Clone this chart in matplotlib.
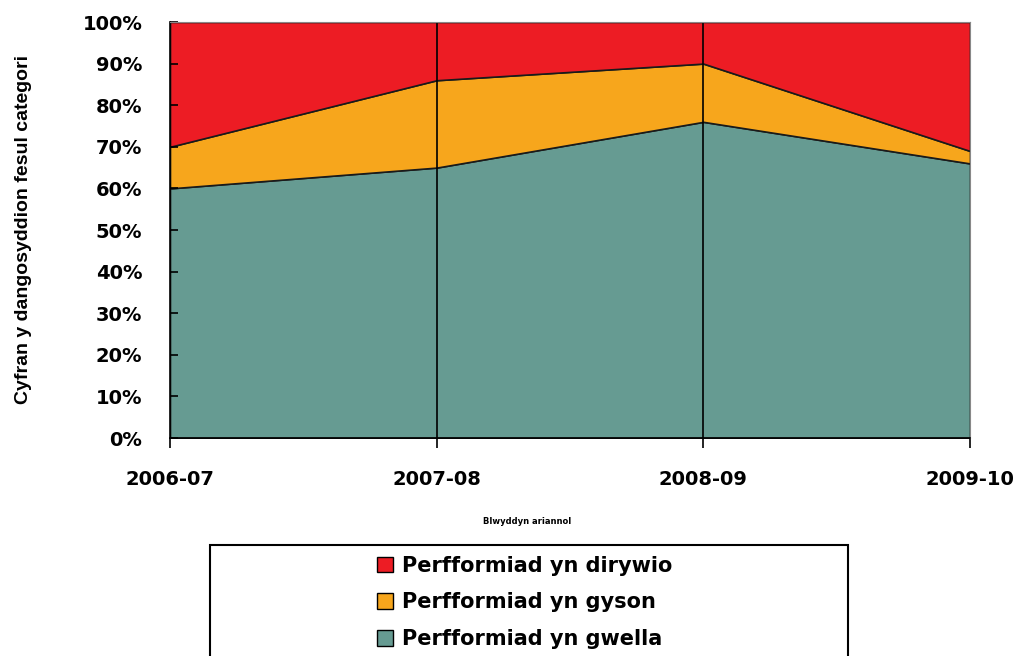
import matplotlib.pyplot as plt
from matplotlib.patches import Rectangle

# Financial years and share of indicators per category (percent)
years = ['2006-07', '2007-08', '2008-09', '2009-10']
gwella = [60, 65, 76, 66]      # improving
gyson = [10, 21, 14, 3]        # stable
dirywio = [30, 14, 10, 31]     # declining

labels = ['Perfformiad yn gwella', 'Perfformiad yn gyson', 'Perfformiad yn dirywio']
colours = ['#669B92', '#F7A61C', '#ED1C24']

fig = plt.figure(figsize=(10.19, 6.56), dpi=100)
ax = fig.add_axes([170/1019, 1 - 438/656, 800/1019, 416/656])

x = list(range(len(years)))
polys = ax.stackplot(x, gwella, gyson, dirywio, colors=colours, labels=labels,
                     edgecolor='#1a1a1a', linewidth=1.2)

# vertical lines at the middle categories
for xi in x[1:-1]:
    ax.axvline(xi, color='black', linewidth=1.2)

ax.set_xlim(0, 3)
ax.set_ylim(0, 100)
ax.set_xticks(x)
ax.set_xticklabels(years, fontsize=14, fontweight='bold')
ax.set_yticks(range(0, 101, 10))
ax.set_yticklabels([f'{v}%' for v in range(0, 101, 10)], fontsize=14, fontweight='bold')
ax.tick_params(axis='x', direction='out', length=7, width=1.2, pad=16)
ax.tick_params(axis='y', direction='in', length=6, width=1.2, pad=20)
for s in ['left', 'bottom']:
    ax.spines[s].set_linewidth(1.2)
for s in ['top', 'right']:
    ax.spines[s].set_color('#888888')

ax.set_ylabel('Cyfran y dangosyddion fesul categori', fontsize=14, fontweight='bold',
              family='Liberation Sans', labelpad=36)

fig.text(527/1019, 1 - 522/656, 'Blwyddyn ariannol', fontsize=6, fontweight='bold',
         ha='center', va='center')

# legend box, cut by the bottom edge
fig.patches.append(Rectangle((210/1019, -0.05), 638/1019, 1 - 545/656 + 0.05,
                             transform=fig.transFigure, fill=False,
                             edgecolor='black', linewidth=1.5))
handles, lbls = ax.get_legend_handles_labels()
leg = fig.legend(handles[::-1], lbls[::-1], loc='upper left',
                 bbox_to_anchor=(358/1019, 1 - 537/656), frameon=False,
                 prop={'size': 15, 'weight': 'bold'}, handlelength=0.8,
                 handleheight=0.8, handletextpad=0.4, labelspacing=0.8)
for h in leg.legend_handles:
    h.set_edgecolor('black')
    h.set_linewidth(1)

fig.savefig('out.png', dpi=100)
